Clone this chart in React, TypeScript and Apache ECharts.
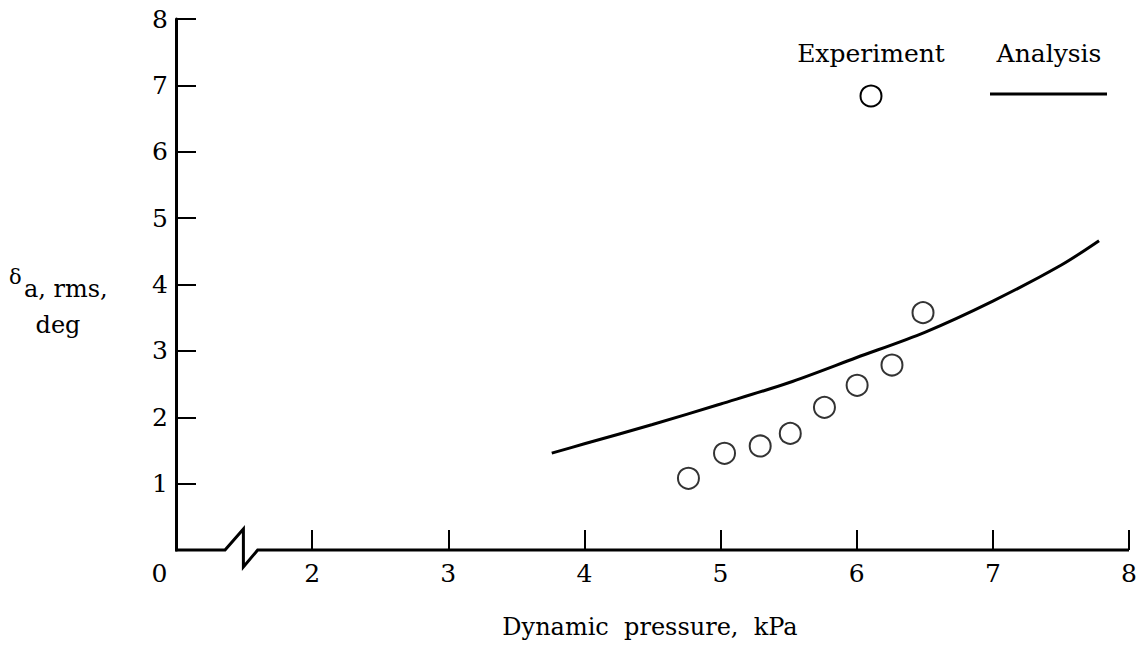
import React, { useEffect, useRef } from "react";
import * as echarts from "echarts";

// Experiment (circles)
const expX = [4.764, 5.029, 5.291, 5.512, 5.763, 6.003, 6.259, 6.487];
const expY = [1.08, 1.457, 1.567, 1.757, 2.149, 2.481, 2.787, 3.576];

// Analysis (solid curve)
const anaX = [3.76, 4.0, 4.5, 5.0, 5.5, 6.0, 6.5, 7.0, 7.5, 7.78];
const anaY = [1.46, 1.6, 1.89, 2.2, 2.52, 2.9, 3.28, 3.75, 4.29, 4.66];

// Axis ticks
const xTickValues = [1, 2, 3, 4, 5, 6, 7, 8];
const xTickLabels = ["0", "2", "3", "4", "5", "6", "7", "8"];
const yTickLabels = ["", "1", "2", "3", "4", "5", "6", "7", "8"];

const FONT = '"DejaVu Serif", "Liberation Serif", serif';

export default function App() {
  const ref = useRef<HTMLDivElement>(null);

  useEffect(() => {
    const chart = echarts.init(ref.current!, null, { renderer: "svg" });
    chart.setOption({
      animation: false,
      backgroundColor: "#fff",
      grid: { left: 176, right: 15, top: 19, bottom: 98, containLabel: false },
      xAxis: {
        type: "value",
        min: 1,
        max: 8,
        interval: 1,
        axisLine: { show: false },
        axisTick: { show: true, inside: true, length: 20, lineStyle: { color: "#000", width: 2 } },
        splitLine: { show: false },
        axisLabel: {
          margin: 11,
          color: "#000",
          fontFamily: FONT,
          fontSize: 25,
          formatter: (v: number) => {
            const i = xTickValues.indexOf(v);
            return i <= 0 ? "" : xTickLabels[i];
          },
        },
      },
      yAxis: {
        type: "value",
        min: 0,
        max: 8,
        interval: 1,
        axisLine: { show: true, lineStyle: { color: "#000", width: 3 } },
        axisTick: { show: true, inside: true, length: 20, lineStyle: { color: "#000", width: 2 } },
        splitLine: { show: false },
        axisLabel: {
          margin: 8,
          color: "#000",
          fontFamily: FONT,
          fontSize: 25,
          formatter: (v: number) => yTickLabels[Math.round(v)] ?? "",
        },
      },
      series: [
        {
          name: "Analysis",
          type: "line",
          data: anaX.map((x, i) => [x, anaY[i]]),
          smooth: 0.3,
          symbol: "none",
          lineStyle: { color: "#000", width: 3 },
          z: 2,
        },
        {
          name: "Experiment",
          type: "scatter",
          data: expX.map((x, i) => [x, expY[i]]),
          symbol: "circle",
          symbolSize: 21,
          itemStyle: { color: "#fff", borderColor: "#000", borderWidth: 2 },
          z: 3,
        },
      ],
    });

    const p = (x: number, y: number) => chart.convertToPixel({ gridIndex: 0 }, [x, y]) as number[];
    const o = p(1, 0);
    const end = p(8, 0);
    const b1 = p(1.36, 0);
    const b2 = p(1.495, 0);
    const b3 = p(1.6, 0);

    chart.setOption({
      graphic: [
        {
          type: "polyline",
          shape: {
            points: [
              [o[0] - 1, o[1]],
              [b1[0], b1[1]],
              [b2[0], b2[1] - 21],
              [b2[0], b2[1] + 17],
              [b3[0], b3[1]],
              [end[0], end[1]],
            ],
          },
          style: { stroke: "#000", lineWidth: 3, fill: null, lineJoin: "miter" },
          z: 10,
        },
        {
          type: "text",
          x: o[0] - 16.5,
          y: o[1] + 23,
          style: { text: xTickLabels[0], fontFamily: FONT, fontSize: 25, fill: "#000", align: "center", verticalAlign: "middle" },
        },
        // Y axis title
        {
          type: "text",
          x: 9,
          y: 277,
          style: { text: "δ", fontFamily: FONT, fontSize: 21, fill: "#000", align: "left", verticalAlign: "middle" },
        },
        {
          type: "text",
          x: 24,
          y: 289,
          style: { text: "a, rms,", fontFamily: FONT, fontSize: 24, fill: "#000", align: "left", verticalAlign: "middle" },
        },
        {
          type: "text",
          x: 58,
          y: 325,
          style: { text: "deg", fontFamily: FONT, fontSize: 24, fill: "#000", align: "center", verticalAlign: "middle" },
        },
        // X axis title
        {
          type: "text",
          x: 650,
          y: 627,
          style: { text: "Dynamic  pressure,  kPa", fontFamily: FONT, fontSize: 24, fill: "#000", align: "center", verticalAlign: "middle" },
        },
        // Legend
        {
          type: "text",
          x: 871,
          y: 53,
          style: { text: "Experiment", fontFamily: FONT, fontSize: 25, fill: "#000", align: "center", verticalAlign: "middle" },
        },
        {
          type: "circle",
          shape: { cx: 871, cy: 96, r: 10.5 },
          style: { fill: "#fff", stroke: "#000", lineWidth: 2 },
        },
        {
          type: "text",
          x: 1049,
          y: 53,
          style: { text: "Analysis", fontFamily: FONT, fontSize: 25, fill: "#000", align: "center", verticalAlign: "middle" },
        },
        {
          type: "line",
          shape: { x1: 990, y1: 94, x2: 1107, y2: 94 },
          style: { stroke: "#000", lineWidth: 3 },
        },
      ],
    });

    return () => chart.dispose();
  }, []);

  return (
    <div
      ref={ref}
      style={{ position: "absolute", left: 0, top: 0, width: 1144, height: 648, background: "#fff" }}
    />
  );
}
